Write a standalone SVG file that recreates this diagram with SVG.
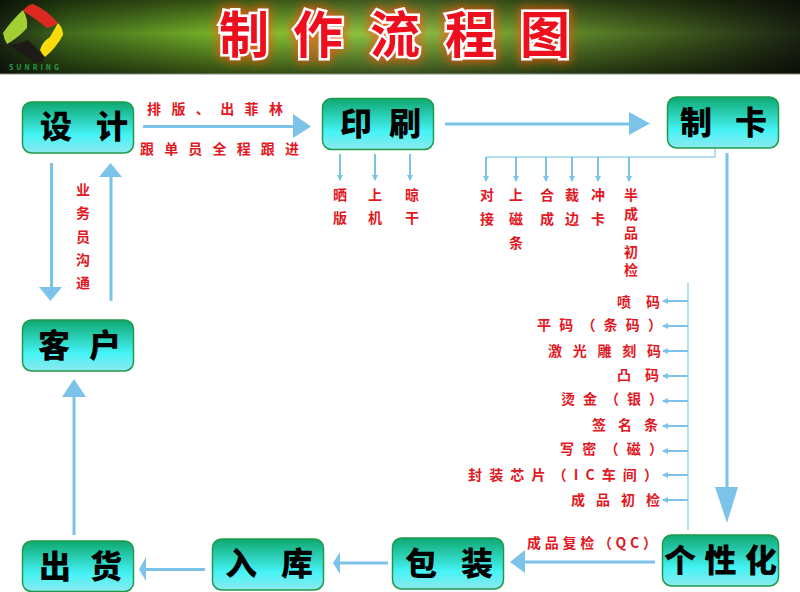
<svg xmlns="http://www.w3.org/2000/svg" width="800" height="592" viewBox="0 0 800 592">
<style>
text{font-family:"Noto Sans CJK SC","Noto Sans",sans-serif;}
.t{font-size:50px;font-weight:700;fill:#ee0f1e;stroke:#fff;stroke-width:5px;paint-order:stroke;text-anchor:middle;}
.g{font-size:50px;font-weight:700;fill:#ff5a10;stroke:#ff5010;stroke-width:9px;text-anchor:middle;opacity:.75;}
.n{font-size:32px;font-weight:900;fill:#000;}
.r{font-size:14px;font-weight:700;fill:#e3171f;}
.v{text-anchor:middle;}
.box{fill:url(#nodeFill);stroke:#1f9a4a;stroke-width:1.5px;}
.c{stroke:#7cc3ea;stroke-width:3px;fill:none;}
.s{stroke:#7cc3ea;stroke-width:2px;fill:none;}
.b{stroke:#b4dfee;stroke-width:2px;fill:none;}
.h{fill:#7cc3ea;}
</style>
<defs>
<linearGradient id="nodeFill" x1="0" y1="0" x2="0" y2="1">
<stop offset="0" stop-color="#0ea870"/><stop offset=".65" stop-color="#45f3f6"/><stop offset="1" stop-color="#8ce9ee"/>
</linearGradient>
<linearGradient id="hx" x1="0" y1="0" x2="1" y2="0">
<stop offset="0" stop-color="#1c2a14"/><stop offset=".08" stop-color="#3f6a1c"/><stop offset=".3" stop-color="#7fbd2b"/><stop offset=".5" stop-color="#8fc54a"/><stop offset=".66" stop-color="#6c9a2e"/><stop offset=".85" stop-color="#3f5a1e"/><stop offset="1" stop-color="#1c2414"/>
</linearGradient>
<linearGradient id="hy" x1="0" y1="0" x2="0" y2="1">
<stop offset="0" stop-color="#000" stop-opacity=".55"/><stop offset=".45" stop-color="#000" stop-opacity="0"/><stop offset="1" stop-color="#000" stop-opacity=".6"/>
</linearGradient>
<filter id="glow" x="-30%" y="-30%" width="160%" height="160%"><feGaussianBlur stdDeviation="5"/></filter>
<marker id="sm" markerWidth="6" markerHeight="6" refX="5" refY="3" orient="auto" markerUnits="userSpaceOnUse"><path d="M0 0L6 3L0 6Z" fill="#7cc3ea"/></marker>
</defs>
<rect width="800" height="592" fill="#fff"/>
<g id="header">
<rect width="800" height="74" fill="url(#hx)"/>
<rect width="800" height="74" fill="url(#hy)"/>
<rect y="73.500" width="800" height="1" fill="#8a8f84"/>
<path d="M23 11Q27 5 33 4Q47 10 58 23Q53 27 47 28Q35 18 23 11Z" fill="#dc2a22"/>
<path d="M23 10Q12 20 3 33Q4 39 7 44Q18 38 27 28Q28 18 23 10Z" fill="#a2ce34"/>
<path d="M58 23Q63 28 63 35Q56 48 45 57Q42 54 40 50Q42 42 50 37Q54 30 58 23Z" fill="#fadc0a"/>
<path d="M10 45Q20 44 28 40Q37 48 45 58Q43 61 40 63Q33 63 28 58Q18 53 10 45Z" fill="#1e1a18"/>
<text x="34" y="70" font-size="7" font-weight="700" fill="#2c9a4c" text-anchor="middle" textLength="50">SUNRING</text>
<g filter="url(#glow)">
<text class="g" x="244" y="53">制</text><text class="g" x="318" y="53">作</text><text class="g" x="395" y="53">流</text><text class="g" x="470" y="53">程</text><text class="g" x="545" y="53">图</text>
</g>
<text class="t" x="244" y="53">制</text><text class="t" x="318" y="53">作</text><text class="t" x="395" y="53">流</text><text class="t" x="470" y="53">程</text><text class="t" x="545" y="53">图</text>
</g>
<g id="connectors">
<path class="c" d="M143 126.500H295"/><path class="h" d="M293 114L311 126.500L293 138Z"/>
<path class="c" d="M445 124H631"/><path class="h" d="M629 112L650 123.500L629 135Z"/>
<path class="c" d="M727 153V489"/><path class="h" d="M715 487H738L727 523Z"/>
<path class="c" d="M655 562H523"/><path class="h" d="M525 550V573L510 562Z"/>
<path class="c" d="M388 563H338"/><path class="h" d="M340 552V574L333 563Z"/>
<path class="c" d="M205 569.500H144"/><path class="h" d="M146 557V581L139 569.500Z"/>
<path class="c" d="M74 535V395"/><path class="h" d="M62 397H86L74 379Z"/>
<path class="c" d="M51.500 163V289"/><path class="h" d="M39 287H62L50.500 301Z"/>
<path class="c" d="M111 301V175"/><path class="h" d="M99 177H122L110.500 163Z"/>
<g class="s">
<path class="s" d="M340 154V180" marker-end="url(#sm)"/>
<path class="s" d="M375 154V180" marker-end="url(#sm)"/>
<path class="s" d="M410 154V180" marker-end="url(#sm)"/>
</g>
<path class="b" d="M715 148V157H486"/>
<path class="s" d="M486 157V181" marker-end="url(#sm)"/>
<path class="s" d="M516 157V181" marker-end="url(#sm)"/>
<path class="s" d="M546 157V181" marker-end="url(#sm)"/>
<path class="s" d="M572 157V181" marker-end="url(#sm)"/>
<path class="s" d="M598 157V181" marker-end="url(#sm)"/>
<path class="s" d="M629 157V181" marker-end="url(#sm)"/>
<path class="b" d="M688 283V530"/>
<path class="s" d="M688 301H663" marker-end="url(#sm)"/>
<path class="s" d="M688 326H663" marker-end="url(#sm)"/>
<path class="s" d="M688 351H663" marker-end="url(#sm)"/>
<path class="s" d="M688 376H663" marker-end="url(#sm)"/>
<path class="s" d="M688 401H663" marker-end="url(#sm)"/>
<path class="s" d="M688 426H663" marker-end="url(#sm)"/>
<path class="s" d="M688 451H663" marker-end="url(#sm)"/>
<path class="s" d="M688 475H663" marker-end="url(#sm)"/>
<path class="s" d="M688 500H663" marker-end="url(#sm)"/>
</g>
<g id="node-design"><rect class="box" x="22.500" y="102" width="111" height="51" rx="9"/><text class="n" x="40" y="138" textLength="88">设计</text></g>
<g id="node-print"><rect class="box" x="322.500" y="98.500" width="111" height="51" rx="9"/><text class="n" x="340" y="135" textLength="81">印刷</text></g>
<g id="node-card"><rect class="box" x="667.500" y="97" width="111" height="51" rx="9" stroke="#3a8f80"/><text class="n" x="680" y="134" textLength="87">制卡</text></g>
<g id="node-customer"><rect class="box" x="22.500" y="320" width="111" height="51" rx="9"/><text class="n" x="38" y="357" textLength="83">客户</text></g>
<g id="node-ship"><rect class="box" x="22.500" y="541" width="111" height="50.500" rx="9"/><text class="n" x="39" y="578" textLength="83">出货</text></g>
<g id="node-stock"><rect class="box" x="212.500" y="539" width="111" height="51" rx="9"/><text class="n" x="225" y="575" textLength="88">入库</text></g>
<g id="node-pack"><rect class="box" x="392.500" y="538" width="111" height="51" rx="9"/><text class="n" x="405" y="575" textLength="88">包装</text></g>
<g id="node-personal"><rect class="box" x="662.500" y="535" width="116" height="51" rx="9"/><text class="n" x="664" y="572" textLength="113">个性化</text></g>
<g id="labels">
<text class="r" x="147" y="114" textLength="136">排版、出菲林</text>
<text class="r" x="140" y="154" textLength="159">跟单员全程跟进</text>
<text class="r" x="527" y="548" textLength="130">成品复检（QC）</text>
<g class="v">
<text class="r v" x="83" y="195">业</text><text class="r v" x="83" y="218">务</text><text class="r v" x="83" y="242">员</text><text class="r v" x="83" y="265">沟</text><text class="r v" x="83" y="288">通</text>
<text class="r v" x="340" y="200">晒</text><text class="r v" x="340" y="223">版</text>
<text class="r v" x="375" y="200">上</text><text class="r v" x="375" y="223">机</text>
<text class="r v" x="412" y="200">晾</text><text class="r v" x="412" y="223">干</text>
<text class="r v" x="487" y="200">对</text><text class="r v" x="487" y="224">接</text>
<text class="r v" x="516" y="200">上</text><text class="r v" x="516" y="224">磁</text><text class="r v" x="516" y="248">条</text>
<text class="r v" x="547" y="200">合</text><text class="r v" x="547" y="224">成</text>
<text class="r v" x="572" y="200">裁</text><text class="r v" x="572" y="224">边</text>
<text class="r v" x="598" y="200">冲</text><text class="r v" x="598" y="224">卡</text>
<text class="r v" x="631" y="200">半</text><text class="r v" x="631" y="219">成</text><text class="r v" x="631" y="238">品</text><text class="r v" x="631" y="257">初</text><text class="r v" x="631" y="275">检</text>
</g>
<text class="r" x="617" y="307" textLength="43">喷码</text>
<text class="r" x="537" y="330" textLength="125">平码（条码）</text>
<text class="r" x="548" y="356" textLength="113">激光雕刻码</text>
<text class="r" x="617" y="380" textLength="42">凸码</text>
<text class="r" x="561" y="404" textLength="102">烫金（银）</text>
<text class="r" x="592" y="430" textLength="66">签名条</text>
<text class="r" x="560" y="454" textLength="103">写密（磁）</text>
<text class="r" x="468" y="480" textLength="190">封装芯片（IC车间）</text>
<text class="r" x="571" y="505" textLength="89">成品初检</text>
</g>
</svg>
